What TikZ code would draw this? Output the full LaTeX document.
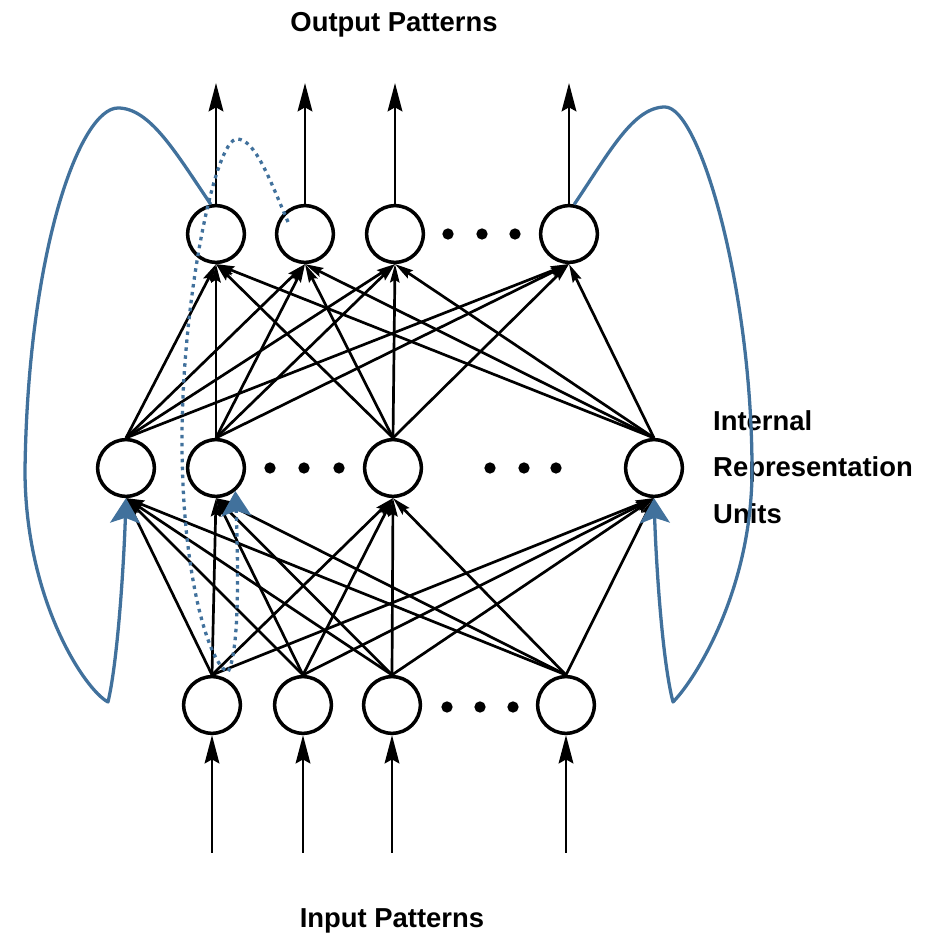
\documentclass[tikz,border=0pt]{standalone}
\usepackage{fontspec}
\setmainfont{Liberation Sans}
\usepackage{xcolor}
\usepackage{tikz}
\usetikzlibrary{arrows.meta, positioning, calc}
\definecolor{loopblue}{HTML}{41719C}
\tikzset{
  netunit/.style={
    circle, draw, line width=3pt, minimum size=1.7cm, inner sep=0pt
  },
  netarrow/.style={
    -{Stealth[length=5.5mm, width=2.8mm, inset=0.8mm]}, line width=2.3pt
  },
  ioarrow/.style={
    -{Stealth[length=8.5mm, width=4.4mm, inset=1.2mm]}, line width=2.3pt
  },
  netlabel/.style={
    font=\fontsize{23.4}{40}\selectfont\bfseries, inner sep=0pt
  },
  loopline/.style={
    -{Stealth[length=7.5mm, width=9mm, inset=1.6mm]}, line width=2.8pt,
    color=loopblue, line join=round
  },
  loopdotted/.style={
    loopline, dash pattern=on 3pt off 3.8pt
  },
}

\begin{document}
\begin{tikzpicture}
  \useasboundingbox (0,0) rectangle (27.9,28.11);

  % --- Output units ---
  \node[netunit] (o1) at (6.48, 21.09) {};
  \node[netunit] (o2) at (9.15, 21.09) {};
  \node[netunit] (o3) at (11.85, 21.09) {};
  \node[netunit] (o4) at (17.07, 21.09) {};
  \fill (13.44,21.09) circle (0.17) (14.46,21.09) circle (0.17) (15.45,21.09) circle (0.17);

  % --- Hidden units ---
  \node[netunit] (h1) at (3.78, 14.07) {};
  \node[netunit] (h2) at (6.48, 14.07) {};
  \node[netunit] (h3) at (11.79, 14.07) {};
  \node[netunit] (h4) at (19.62, 14.07) {};
  \fill (8.1,14.07) circle (0.17) (9.12,14.07) circle (0.17) (10.17,14.07) circle (0.17);
  \fill (14.7,14.07) circle (0.17) (15.72,14.07) circle (0.17) (16.68,14.07) circle (0.17);

  % --- Input units ---
  \node[netunit] (i1) at (6.36, 6.96) {};
  \node[netunit] (i2) at (9.09, 6.96) {};
  \node[netunit] (i3) at (11.76, 6.96) {};
  \node[netunit] (i4) at (16.98, 6.96) {};
  \fill (13.41,6.9) circle (0.17) (14.4,6.9) circle (0.17) (15.39,6.9) circle (0.17);

  % --- Labels ---
  \node[netlabel, anchor=base] (outlabel) at (11.82, 27.15) {Output Patterns};
  \node[netlabel, anchor=base] (inlabel) at (11.76, 0.27) {Input Patterns};
  \node[netlabel, anchor=north west, align=left] (hidlabel) at (21.39, 15.81)
    {Internal\\Representation\\Units};

  % --- Pattern arrows ---
  \coordinate (out1) at (6.48, 25.62);
  \coordinate (out2) at (9.15, 25.62);
  \coordinate (out3) at (11.85, 25.62);
  \coordinate (out4) at (17.07, 25.62);
  \coordinate (in1) at (6.36, 2.52);
  \coordinate (in2) at (9.09, 2.52);
  \coordinate (in3) at (11.76, 2.52);
  \coordinate (in4) at (16.98, 2.52);
  \draw[ioarrow] (o1.north) -- (out1);
  \draw[ioarrow] (o2.north) -- (out2);
  \draw[ioarrow] (o3.north) -- (out3);
  \draw[ioarrow] (o4.north) -- (out4);
  \draw[ioarrow] (in1) -- (i1.south);
  \draw[ioarrow] (in2) -- (i2.south);
  \draw[ioarrow] (in3) -- (i3.south);
  \draw[ioarrow] (in4) -- (i4.south);

  % --- Hidden -> output ---
  \draw[netarrow] (h1.north) -- (o1.south);
  \draw[netarrow] (h1.north) -- (o2.south);
  \draw[netarrow] (h1.north) -- (o3.south);
  \draw[netarrow] (h1.north) -- (o4.south);
  \draw[netarrow] (h2.north) -- (o1.south);
  \draw[netarrow] (h2.north) -- (o2.south);
  \draw[netarrow] (h2.north) -- (o3.south);
  \draw[netarrow] (h2.north) -- (o4.south);
  \draw[netarrow] (h3.north) -- (o1.south);
  \draw[netarrow] (h3.north) -- (o2.south);
  \draw[netarrow] (h3.north) -- (o3.south);
  \draw[netarrow] (h3.north) -- (o4.south);
  \draw[netarrow] (h4.north) -- (o1.south);
  \draw[netarrow] (h4.north) -- (o2.south);
  \draw[netarrow] (h4.north) -- (o3.south);
  \draw[netarrow] (h4.north) -- (o4.south);

  % --- Input -> hidden ---
  \draw[netarrow] (i1.north) -- (h1.south);
  \draw[netarrow] (i1.north) -- (h2.south);
  \draw[netarrow] (i1.north) -- (h3.south);
  \draw[netarrow] (i1.north) -- (h4.south);
  \draw[netarrow] (i2.north) -- (h1.south);
  \draw[netarrow] (i2.north) -- (h2.south);
  \draw[netarrow] (i2.north) -- (h3.south);
  \draw[netarrow] (i2.north) -- (h4.south);
  \draw[netarrow] (i3.north) -- (h1.south);
  \draw[netarrow] (i3.north) -- (h2.south);
  \draw[netarrow] (i3.north) -- (h3.south);
  \draw[netarrow] (i3.north) -- (h4.south);
  \draw[netarrow] (i4.north) -- (h1.south);
  \draw[netarrow] (i4.north) -- (h2.south);
  \draw[netarrow] (i4.north) -- (h3.south);
  \draw[netarrow] (i4.north) -- (h4.south);

  % --- Feedback loops ---
  \draw[loopline] (o1.100)
    .. controls (5.28,23.52) and (4.5,24.87) .. (3.54,24.87)
    .. controls (2.4,24.87) and (0.84,20.61) .. (0.75,14.01)
    .. controls (0.75,10.11) and (2.55,7.41) .. (3.24,7.05)
    .. controls (3.54,8.31) and (3.72,11.31) .. (h1.south);
  \draw[loopline] (o4.80)
    .. controls (18.27,23.52) and (18.99,24.9) .. (19.95,24.9)
    .. controls (21.0,24.9) and (22.56,19.41) .. (22.56,14.01)
    .. controls (22.56,10.41) and (20.85,7.71) .. (20.19,7.05)
    .. controls (19.86,8.31) and (19.68,11.31) .. (h4.south);

  % --- Dotted loop ---
  \coordinate (dotstart) at (8.64, 21.45);
  \draw[loopdotted] (dotstart)
    .. controls (8.1,22.71) and (7.65,23.94) .. (7.11,23.94)
    .. controls (6.45,23.94) and (5.46,19.11) .. (5.46,14.91)
    .. controls (5.46,10.71) and (6.3,8.16) .. (6.84,7.95)
    .. controls (7.2,8.61) and (7.14,11.31) .. (h2.-50);
\end{tikzpicture}
\end{document}
